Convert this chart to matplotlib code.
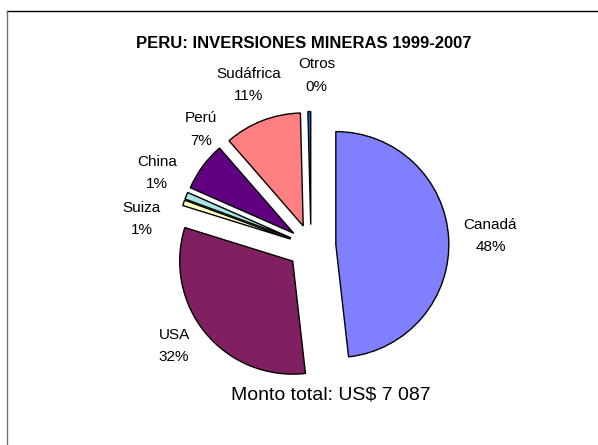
import numpy as np
import matplotlib
matplotlib.use("Agg")
import matplotlib.pyplot as plt
from matplotlib.lines import Line2D

plt.rcParams['font.family'] = ['Liberation Sans', 'DejaVu Sans']

# data (percent of total investment)
paises = ["Canadá", "USA", "Suiza", "China", "Perú", "Sudáfrica", "Otros"]
porcentaje = [48.2, 31.6, 0.8, 1.0, 7.0, 11.0, 0.4]
etiquetas_pct = ["48%", "32%", "1%", "1%", "7%", "11%", "0%"]
colores = ["#8080ff", "#802060", "#ffffc0", "#a8e4e4", "#600080", "#ff8080", "#0a6cc0"]

# slice offsets and label placement tweaks (distance from wedge centre, angle nudge in deg)
explode = [0.22, 0.21, 0.19, 0.19, 0.19, 0.19, 0.19]
label_r = [1.37, 1.29, 1.33, 1.32, 1.23, 1.34, 1.32]
label_da = [0, -4, 11, -4, -12, 0, -3]

W, H = 598, 445
CX, CY, R = 311, 246, 113   # pie centre and radius in pixels

fig = plt.figure(figsize=(W / 100, H / 100), dpi=100)
ax = fig.add_axes([0, 0, 1, 1])

labels = [f"{p}\n{s}" for p, s in zip(paises, etiquetas_pct)]
wedges, texts = ax.pie(porcentaje, labels=labels, colors=colores,
                       explode=explode,
                       startangle=90, counterclock=False,
                       wedgeprops=dict(edgecolor="black", linewidth=1.0),
                       textprops=dict(fontsize=11, linespacing=1.75))

for w, t, r, da in zip(wedges, texts, label_r, label_da):
    ang = np.deg2rad((w.theta1 + w.theta2) / 2 + da)
    x0, y0 = w.center
    t.set_position((x0 + r * np.cos(ang), y0 + r * np.sin(ang)))
    t.set_ha("center")
    t.set_va("center")
    t.set_multialignment("center")

ax.set_xlim(-CX / R, (W - CX) / R)
ax.set_ylim(-(H - CY) / R, CY / R)
ax.set_aspect("auto")
ax.axis("off")

fig.text(304 / W, 1 - 43 / H, "PERU: INVERSIONES MINERAS 1999-2007",
         ha="center", va="center", fontsize=12, fontweight="bold")
fig.text(331 / W, 1 - 395 / H, "Monto total: US$ 7 087",
         ha="center", va="center", fontsize=14)

# chart area border (only top and left visible)
fig.add_artist(Line2D([7 / W, 1], [1 - 10.5 / H, 1 - 10.5 / H],
                      transform=fig.transFigure, color="black", linewidth=1))
fig.add_artist(Line2D([7 / W, 7 / W], [1 - 10.5 / H, 0],
                      transform=fig.transFigure, color="#707070", linewidth=1))

fig.savefig("out.png", dpi=100)
